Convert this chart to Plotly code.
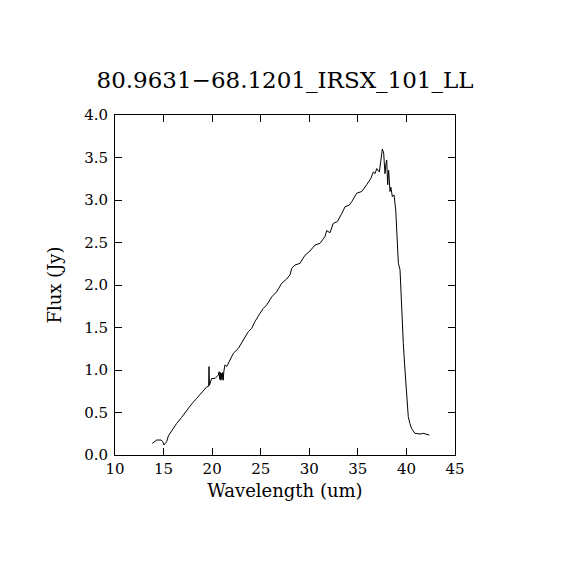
import plotly.graph_objects as go

wavelength = [13.84, 14.29, 14.74, 14.9, 15.04, 15.32, 15.49, 15.83, 16.35, 16.86, 17.38, 17.89,
              18.41, 18.93, 19.2, 19.43, 19.64, 19.68, 19.72, 19.78, 19.95, 20.29, 20.63, 20.72,
              20.78, 20.84, 20.9, 20.96, 21.02, 21.08, 21.14, 21.2, 21.32, 21.5, 21.84, 22.18,
              22.70, 23.21, 23.72, 24.07, 24.41, 24.93, 25.27, 25.62, 26.13, 26.64, 27.16, 27.67,
              28.02, 28.19, 28.53, 29.04, 29.56, 30.07, 30.59, 31.10, 31.62, 31.79, 32.13, 32.47,
              32.89, 33.34, 33.68, 34.12, 34.37, 34.88, 35.40, 35.91, 36.32, 36.59, 36.77, 36.94,
              37.21, 37.35, 37.52, 37.66, 37.79, 37.9, 37.97, 38.07, 38.17, 38.31, 38.4, 38.55,
              38.72, 38.9, 39.06, 39.17, 39.34, 39.51, 39.68, 39.85, 40.03, 40.19, 40.36, 40.54,
              40.88, 41.4, 41.74, 42.09, 42.36]
flux = [0.137, 0.176, 0.176, 0.16, 0.118, 0.157, 0.224, 0.286, 0.372, 0.443, 0.53, 0.60,
        0.667, 0.733, 0.77, 0.80, 0.81, 1.04, 0.82, 0.84, 0.90, 0.90, 0.94, 0.98,
        0.89, 0.97, 0.88, 0.96, 0.89, 0.97, 0.88, 0.98, 1.06, 1.04, 1.12, 1.196,
        1.255, 1.35, 1.45, 1.49, 1.57, 1.667, 1.725, 1.765, 1.86, 1.92, 2.02, 2.07,
        2.12, 2.196, 2.235, 2.255, 2.35, 2.40, 2.47, 2.49, 2.57, 2.64, 2.615, 2.725,
        2.745, 2.84, 2.92, 2.94, 2.98, 3.08, 3.10, 3.18, 3.25, 3.33, 3.31, 3.37,
        3.33, 3.45, 3.60, 3.55, 3.31, 3.43, 3.47, 3.18, 3.35, 3.10, 3.15, 3.04,
        3.06, 2.88, 2.53, 2.255, 2.18, 1.63, 1.31, 1.0, 0.686, 0.45, 0.37, 0.31,
        0.255, 0.247, 0.255, 0.243, 0.235]

title_text = "80.9631\u221268.1201_IRSX_101_LL"
x_ticks = [10, 15, 20, 25, 30, 35, 40, 45]
y_ticks = [0.0, 0.5, 1.0, 1.5, 2.0, 2.5, 3.0, 3.5, 4.0]

font_family = "DejaVu Serif"

fig = go.Figure()
fig.add_trace(go.Scatter(x=wavelength, y=flux, mode="lines",
                         line=dict(color="black", width=1),
                         showlegend=False, hoverinfo="skip"))

axis_common = dict(showline=True, linecolor="black", linewidth=1, mirror="ticks",
                   ticks="inside", ticklen=7, tickwidth=1, tickcolor="black",
                   showgrid=False, zeroline=False,
                   tickfont=dict(family=font_family, size=15, color="black"))

fig.update_layout(
    width=570, height=570,
    margin=dict(l=107, r=123, t=107, b=123),
    paper_bgcolor="white", plot_bgcolor="white",
    title=dict(text=title_text, x=(107 + 170) / 570, xanchor="center", y=0.859, yanchor="bottom",
               font=dict(family=font_family, size=23, color="black")),
    xaxis=dict(range=[10, 45], tickvals=x_ticks, ticktext=[str(v) for v in x_ticks],
               title=dict(text="Wavelength (um)", standoff=7,
                          font=dict(family=font_family, size=18, color="black")),
               **axis_common),
    yaxis=dict(range=[0, 4], tickvals=y_ticks, ticktext=[f"{v:.1f}" for v in y_ticks],
               ticklabelstandoff=3,
               title=dict(text="Flux (Jy)", standoff=17,
                          font=dict(family=font_family, size=18, color="black")),
               **axis_common),
)

fig.write_html("out.html")
